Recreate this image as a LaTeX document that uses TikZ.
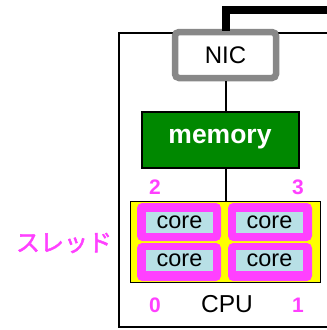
\documentclass[tikz,border=0pt]{standalone}
\usepackage{fontspec}
\setmainfont{Liberation Sans}
\newfontfamily\jpfont[FakeBold=2]{Noto Sans CJK JP}
\definecolor{nicgray}{RGB}{136,136,136}
\definecolor{memgreen}{RGB}{0,136,0}
\definecolor{thmag}{RGB}{255,64,255}
\definecolor{coreblue}{RGB}{184,224,230}
\definecolor{cpuyellow}{RGB}{255,255,0}
\begin{document}
\begin{tikzpicture}[x=1pt,y=-1pt,
  nicbox/.style={draw=nicgray,line width=6.5pt,fill=white,rounded corners=4pt,minimum width=101pt,minimum height=46pt,inner sep=0pt,font=\fontsize{24}{24}\selectfont},
  membox/.style={draw=black,line width=2pt,fill=memgreen,minimum width=157pt,minimum height=56pt,inner sep=0pt,text=white,font=\fontsize{26.5}{26.5}\selectfont\bfseries},
  cpubox/.style={draw=black,line width=1.6pt,fill=cpuyellow,minimum width=190pt,minimum height=81pt,inner sep=0pt},
  thbox/.style={fill=thmag,rounded corners=5pt,minimum width=84pt,minimum height=38pt,inner sep=0pt},
  corebox/.style={fill=coreblue,minimum width=67pt,minimum height=21pt,inner sep=0pt,font=\fontsize{23.5}{23.5}\selectfont},
  numlab/.style={text=thmag,font=\fontsize{21}{21}\selectfont\bfseries,inner sep=0pt},
  wire/.style={draw=black,line width=2pt},
  netwire/.style={draw=black,line width=8pt}
]
\useasboundingbox (0,0) rectangle (327,330);
% outer machine box
\draw[line width=2.2pt] (327,33) -- (119,33) -- (119,327) -- (327,327);
% nodes
\node[nicbox] (nic) at (225.5,55) {NIC};
\node[membox] (mem) at (220,139.5) {memory};
\node[cpubox] (cpu) at (225.5,242) {};
\node[thbox] (t2) at (179,222) {};
\node[thbox] (t3) at (270,222) {};
\node[thbox] (t0) at (179,262) {};
\node[thbox] (t1) at (270,262) {};
\node[corebox] (c2) at (179.5,222.5) {core};
\node[corebox] (c3) at (269.5,222.5) {core};
\node[corebox] (c0) at (179.5,260.5) {core};
\node[corebox] (c1) at (269.5,260.5) {core};
\node[numlab] (n2) at (155,187) {2};
\node[numlab] (n3) at (298,187) {3};
\node[numlab] (n0) at (155,305) {0};
\node[numlab] (n1) at (298,305) {1};
\node[inner sep=0pt,font=\fontsize{24.5}{24.5}\selectfont] (cpulab) at (227,304) {CPU};
\node[inner sep=0pt,text=thmag,font=\fontsize{24}{24}\selectfont\jpfont] (thlab) at (64,243) {スレッド};
\coordinate (wan) at (327,10);
% connectors
\draw[netwire] ([yshift=-2pt]nic.north) |- (wan);
\draw[wire] (nic.south) -- (nic.south |- mem.north);
\draw[wire] (nic.south |- mem.south) -- (nic.south |- cpu.north);
\end{tikzpicture}
\end{document}
